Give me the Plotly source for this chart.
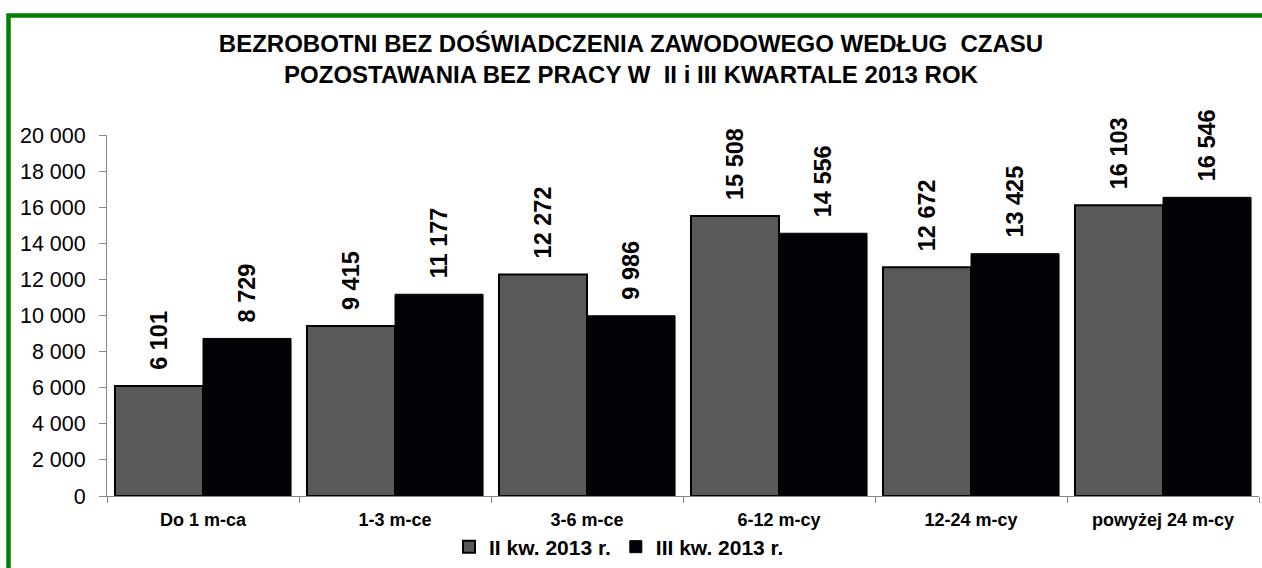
import plotly.graph_objects as go

categories = ["Do 1 m-ca", "1-3 m-ce", "3-6 m-ce", "6-12 m-cy", "12-24 m-cy", "powyżej 24 m-cy"]
q2_values = [6101, 9415, 12272, 15508, 12672, 16103]
q3_values = [8729, 11177, 9986, 14556, 13425, 16546]
series_names = ["II kw. 2013 r.", "III kw. 2013 r."]
title_text = "BEZROBOTNI BEZ DOŚWIADCZENIA ZAWODOWEGO WEDŁUG  CZASU<br>POZOSTAWANIA BEZ PRACY W  II i III KWARTALE 2013 ROK"

FONT = "Liberation Sans, Arial, sans-serif"
W, H = 1262, 568
L, R, T, B = 107, 3, 135, 72

fig = go.Figure()
fig.add_trace(go.Bar(
    x=categories, y=q2_values, name=series_names[0],
    marker=dict(color="#595959", line=dict(color="#000000", width=2)),
    texttemplate="\u00a0\u00a0%{y:,d}", textposition="outside", textangle=-90,
    textfont=dict(family=FONT, size=23.5, color="#000000", weight="bold"),
    cliponaxis=False,
))
fig.add_trace(go.Bar(
    x=categories, y=q3_values, name=series_names[1],
    marker=dict(color="#020208", line=dict(color="#000000", width=1)),
    texttemplate="\u00a0\u00a0%{y:,d}", textposition="outside", textangle=-90,
    textfont=dict(family=FONT, size=23.5, color="#000000", weight="bold"),
    cliponaxis=False,
))

pw = W - L - R
ph = H - T - B
fig.add_shape(
    type="rect", xref="paper", yref="paper",
    x0=(8.5 - L) / pw, x1=(W + 20 - L) / pw,
    y0=(H - B - (H + 20)) / ph, y1=(H - B - 15.5) / ph,
    line=dict(color="#008000", width=4.5), fillcolor="rgba(0,0,0,0)", layer="above",
)

fig.update_layout(
    width=W, height=H,
    margin=dict(l=L, r=R, t=T, b=B, autoexpand=False),
    paper_bgcolor="white", plot_bgcolor="white",
    separators=", ",
    barmode="group", bargap=0.083, bargroupgap=0,
    font=dict(family=FONT, color="#000000"),
    title=dict(
        text=title_text, x=0.5, xref="container", xanchor="center",
        y=1 - 52 / H, yref="container", yanchor="top",
        font=dict(family=FONT, size=24, color="#000000", weight="bold"),
    ),
    xaxis=dict(
        type="category", showgrid=False, showline=True, linecolor="#868686", linewidth=1,
        ticks="outside", tickson="boundaries", ticklen=6, tickcolor="#868686",
        tickfont=dict(family=FONT, size=18, color="#000000", weight="bold"),
        ticklabelstandoff=7,
    ),
    yaxis=dict(
        range=[0, 20000], dtick=2000, tickformat=",d", showgrid=False,
        showline=True, linecolor="#868686", linewidth=1,
        ticks="outside", ticklen=7, tickcolor="#868686",
        tickfont=dict(family=FONT, size=21.5, color="#000000"),
        ticklabelstandoff=9,
    ),
    showlegend=True,
    legend=dict(
        orientation="h", x=(449 - L) / pw, xanchor="left",
        y=1 - 547 / H, yref="container", yanchor="middle",
        font=dict(family=FONT, size=21, color="#000000", weight="bold"),
        bgcolor="rgba(0,0,0,0)",
    ),
)

fig.write_html(
    "out.html",
    config={"displayModeBar": False},
    post_script="document.body.style.margin='0';document.body.style.overflow='hidden';",
)
